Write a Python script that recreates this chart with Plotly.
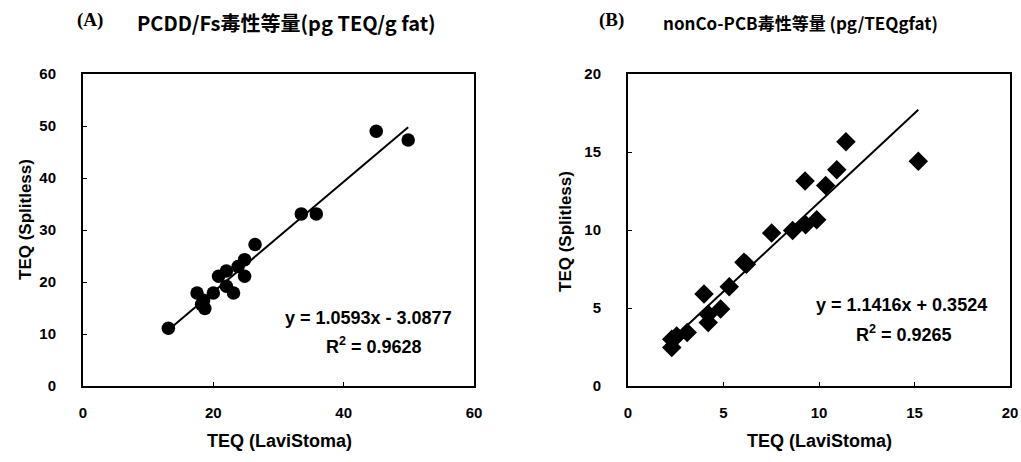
import numpy as np
import plotly.graph_objects as go

# Panel A: PCDD/Fs
a_x = [13.1, 17.5, 18.2, 18.7, 18.5, 20.0, 20.8, 22.0, 22.0, 23.1, 23.8, 24.8, 24.8, 26.4, 33.5, 35.8, 45.0, 49.9]
a_y = [11.1, 17.9, 15.7, 14.9, 16.5, 17.9, 21.1, 22.1, 19.2, 17.9, 23.0, 24.3, 21.1, 27.2, 33.1, 33.1, 49.0, 47.3]
a_slope, a_icpt = 1.0593, -3.0877
a_eq = "y = 1.0593x - 3.0877"
a_r2 = "R<sup>2</sup> = 0.9628"

# Panel B: nonCo-PCB
b_x = [2.29, 2.29, 2.55, 3.1, 3.98, 4.2, 4.2, 4.85, 5.3, 6.07, 6.2, 7.52, 8.62, 9.3, 9.27, 9.88, 10.35, 10.93, 11.41, 15.2]
b_y = [2.46, 3.0, 3.2, 3.43, 5.9, 4.07, 4.6, 4.93, 6.37, 7.93, 7.8, 9.8, 9.97, 10.33, 13.14, 10.65, 12.86, 13.87, 15.65, 14.4]
b_slope, b_icpt = 1.1416, 0.3524
b_eq = "y = 1.1416x + 0.3524"
b_r2 = "R<sup>2</sup> = 0.9265"

a_ticks = [0, 10, 20, 30, 40, 50, 60]
a_xticks = [0, 20, 40, 60]
b_ticks = [0, 5, 10, 15, 20]

title_a = "PCDD/Fs毒性等量(pg TEQ/g fat)"
title_b = "nonCo-PCB毒性等量 (pg/TEQgfat)"
xlab = "TEQ (LaviStoma)"
ylab = "TEQ (Splitless)"

W, H = 1021, 462
def px(v): return v / W
def py(v): return 1 - v / H

fig = go.Figure()

fig.add_trace(go.Scatter(x=a_x, y=a_y, mode="markers", xaxis="x", yaxis="y",
                         marker=dict(symbol="circle", size=13.5, color="black"), showlegend=False))
ax_line = np.array([min(a_x), max(a_x)])
fig.add_trace(go.Scatter(x=ax_line, y=a_slope * ax_line + a_icpt, mode="lines", xaxis="x", yaxis="y",
                         line=dict(color="black", width=2), showlegend=False))

fig.add_trace(go.Scatter(x=b_x, y=b_y, mode="markers", xaxis="x2", yaxis="y2",
                         marker=dict(symbol="diamond", size=15, color="black"), showlegend=False))
bx_line = np.array([min(b_x), max(b_x)])
fig.add_trace(go.Scatter(x=bx_line, y=b_slope * bx_line + b_icpt, mode="lines", xaxis="x2", yaxis="y2",
                         line=dict(color="black", width=2), showlegend=False))

tickfont = dict(family="Liberation Sans", size=15, color="black", weight="bold")
common = dict(showgrid=False, zeroline=False, showline=True, linecolor="black", linewidth=2,
              mirror=True, ticks="inside", ticklen=4, tickcolor="black", tickfont=tickfont,
              automargin=False)

ydom = [py(386), py(74)]
fig.update_layout(
    width=W, height=H, margin=dict(l=0, r=0, t=0, b=0),
    paper_bgcolor="white", plot_bgcolor="white",
    xaxis=dict(domain=[px(83), px(474)], range=[0, 60], tickvals=a_xticks, anchor="y", **common),
    yaxis=dict(domain=ydom, range=[0, 60], tickvals=a_ticks, anchor="x", **common),
    xaxis2=dict(domain=[px(628), px(1010)], range=[0, 20], tickvals=b_ticks, anchor="y2", **common),
    yaxis2=dict(domain=ydom, range=[0, 20], tickvals=b_ticks, anchor="x2", **common),
)
fig.update_xaxes(ticklabelstandoff=12)
fig.update_yaxes(ticklabelstandoff=22)

lab = dict(family="Liberation Sans", size=18, color="black", weight="bold")
ylabf = dict(family="Liberation Sans", size=17, color="black", weight="bold")
eqf = dict(family="Liberation Sans", size=18, color="black", weight="bold")
cjk_a = dict(family="Noto Sans CJK JP", size=20, color="black", weight="bold")
cjk_b = dict(family="Noto Sans CJK JP", size=17, color="black", weight="bold")
serif = dict(family="Liberation Serif", size=19, color="black", weight="bold")
ann = []
def A(x, y, text, font, xanchor="center", angle=0):
    ann.append(dict(x=px(x), y=py(y), xref="paper", yref="paper", text=text, font=font,
                    showarrow=False, xanchor=xanchor, yanchor="middle", textangle=angle,
                    borderpad=0))

A(76, 20, "(A)", serif, "left")
A(136, 22, title_a, cjk_a, "left")
A(598, 20, "(B)", serif, "left")
A(662, 22, title_b, cjk_b, "left")
A(279, 441, xlab, lab)
A(819, 441, xlab, lab)
A(25, 220, ylab, ylabf, angle=-90)
A(565, 232, ylab, ylabf, angle=-90)
A(453, 318, a_eq, eqf, "right")
A(374, 345, a_r2, eqf)
A(988, 305, b_eq, eqf, "right")
A(904, 333, b_r2, eqf)
fig.update_layout(annotations=ann)

fig.write_html("out.html", config={"displayModeBar": False},
               post_script="document.body.style.margin='0';document.body.style.overflow='hidden';")
